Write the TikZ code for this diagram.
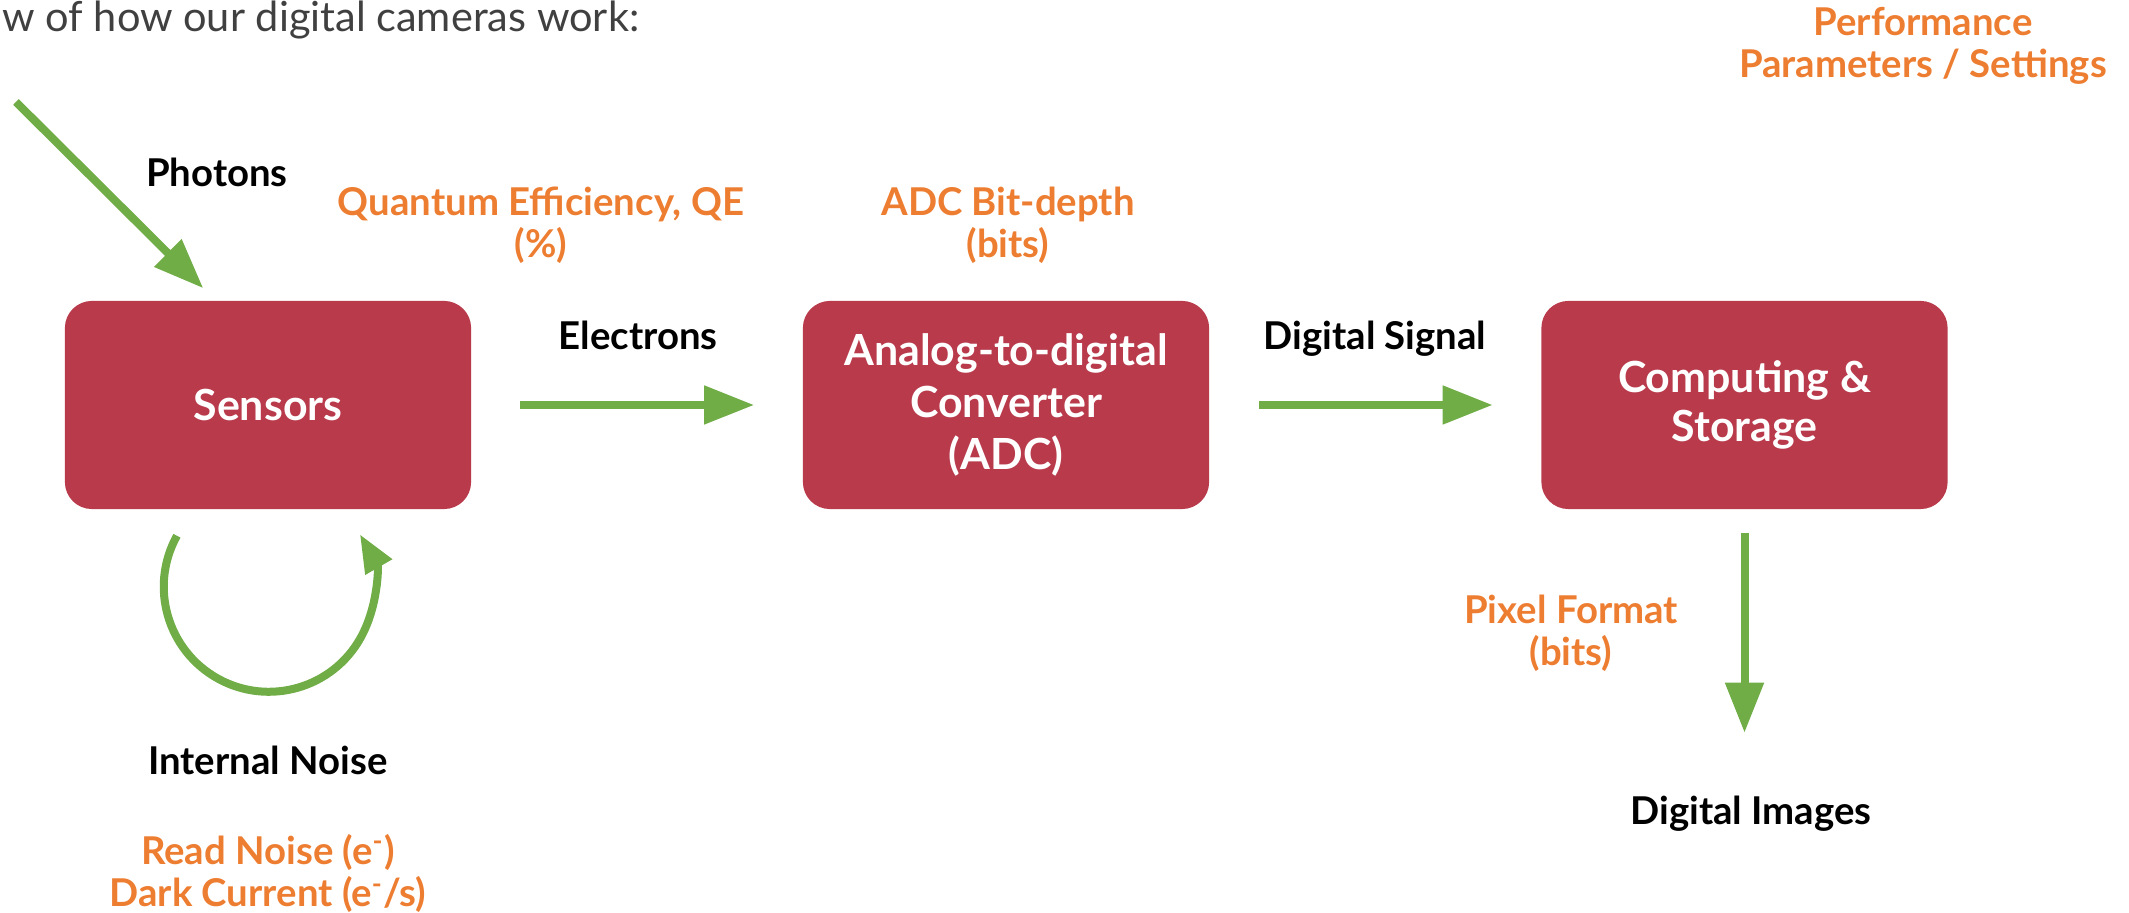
\documentclass[tikz,border=0pt]{standalone}
\usepackage{fontspec}
\setmainfont{Lato}
\usepackage{tikz}
\usetikzlibrary{positioning}
\usetikzlibrary{arrows.meta}

\definecolor{boxred}{RGB}{184,58,75}
\definecolor{flowgreen}{RGB}{112,173,71}
\definecolor{paramorange}{RGB}{237,125,49}
\definecolor{introgray}{RGB}{64,64,64}

\tikzset{
  stage/.style={fill=boxred, rounded corners=0.27cm, minimum width=4.06cm, minimum height=2.08cm,
    text=white, align=center, inner sep=0pt, font=\fontsize{12.2}{14.8}\selectfont\bfseries},
  signal/.style={text=black, inner sep=0pt, anchor=base, font=\fontsize{10.9}{12.2}\selectfont\bfseries},
  param/.style={text=paramorange, align=center, inner sep=0pt, anchor=base, font=\fontsize{10.9}{12.2}\selectfont\bfseries},
  flow/.style={draw=flowgreen, line width=0.08cm, -{Triangle[length=0.5cm,width=0.37cm]}},
}

\begin{document}
\begin{tikzpicture}[x=0.01cm, y=-0.01cm]
    \useasboundingbox (0,0) rectangle (2129,913);

    % Intro line, cut at the left edge
    \node[anchor=base east, inner sep=0pt, text=introgray, font=\fontsize{11.8}{14}\selectfont] (intro) at (640,32) {w of how our digital cameras work:};

    % Stages
    \node[stage] (sensors) at (268,405) {Sensors};
    \node[stage] (adc) at (1006,405) {Analog-to-digital\\Converter\\(ADC)};
    \node[stage, font=\fontsize{12.2}{13.7}\selectfont\bfseries] (comp) at (1744.5,405) {Computing \&\\Storage};

    % Signals
    \node[signal] (photons) at (217,187) {Photons};
    \node[signal] (electrons) at (638,350) {Electrons};
    \node[signal] (digsignal) at (1375,350) {Digital Signal};
    \node[signal] (noise) at (268,775) {Internal Noise};
    \node[signal] (images) at (1751,825) {Digital Images};

    % Parameters (placed by the baseline of their last line)
    \node[param] (perf) at (1923,78) {Performance\\Parameters / Settings};
    \node[param] (qe) at (541,258) {Quantum Efficiency, QE\\(\%)};
    \node[param] (bitdepth) at (1008,258) {ADC Bit-depth\\(bits)};
    \node[param] (pixfmt) at (1571,666) {Pixel Format\\(bits)};
    \node[param] (noisepar) at (268,907) {Read Noise (e\textsuperscript{-})\\Dark Current (e\textsuperscript{-}/s)};

    % Arrows
    \coordinate (light) at (16,102);
    \draw[flow] (light) -- ([xshift=1.39cm,yshift=0.12cm]sensors.north west);
    \draw[flow] ([xshift=0.48cm]sensors.east) -- ([xshift=-0.48cm]adc.west);
    \draw[flow] ([xshift=0.49cm]adc.east) -- ([xshift=-0.48cm]comp.west);
    \draw[flow, shorten <=0.23cm, shorten >=0.63cm] (comp.south) -- (comp.south |- images.north);
    \draw[flow, -{Triangle[length=0.38cm,width=0.29cm]}] ([xshift=-0.91cm,yshift=-0.26cm]sensors.south)
        arc[start angle=151, end angle=390, radius=1.05cm];
\end{tikzpicture}
\end{document}
